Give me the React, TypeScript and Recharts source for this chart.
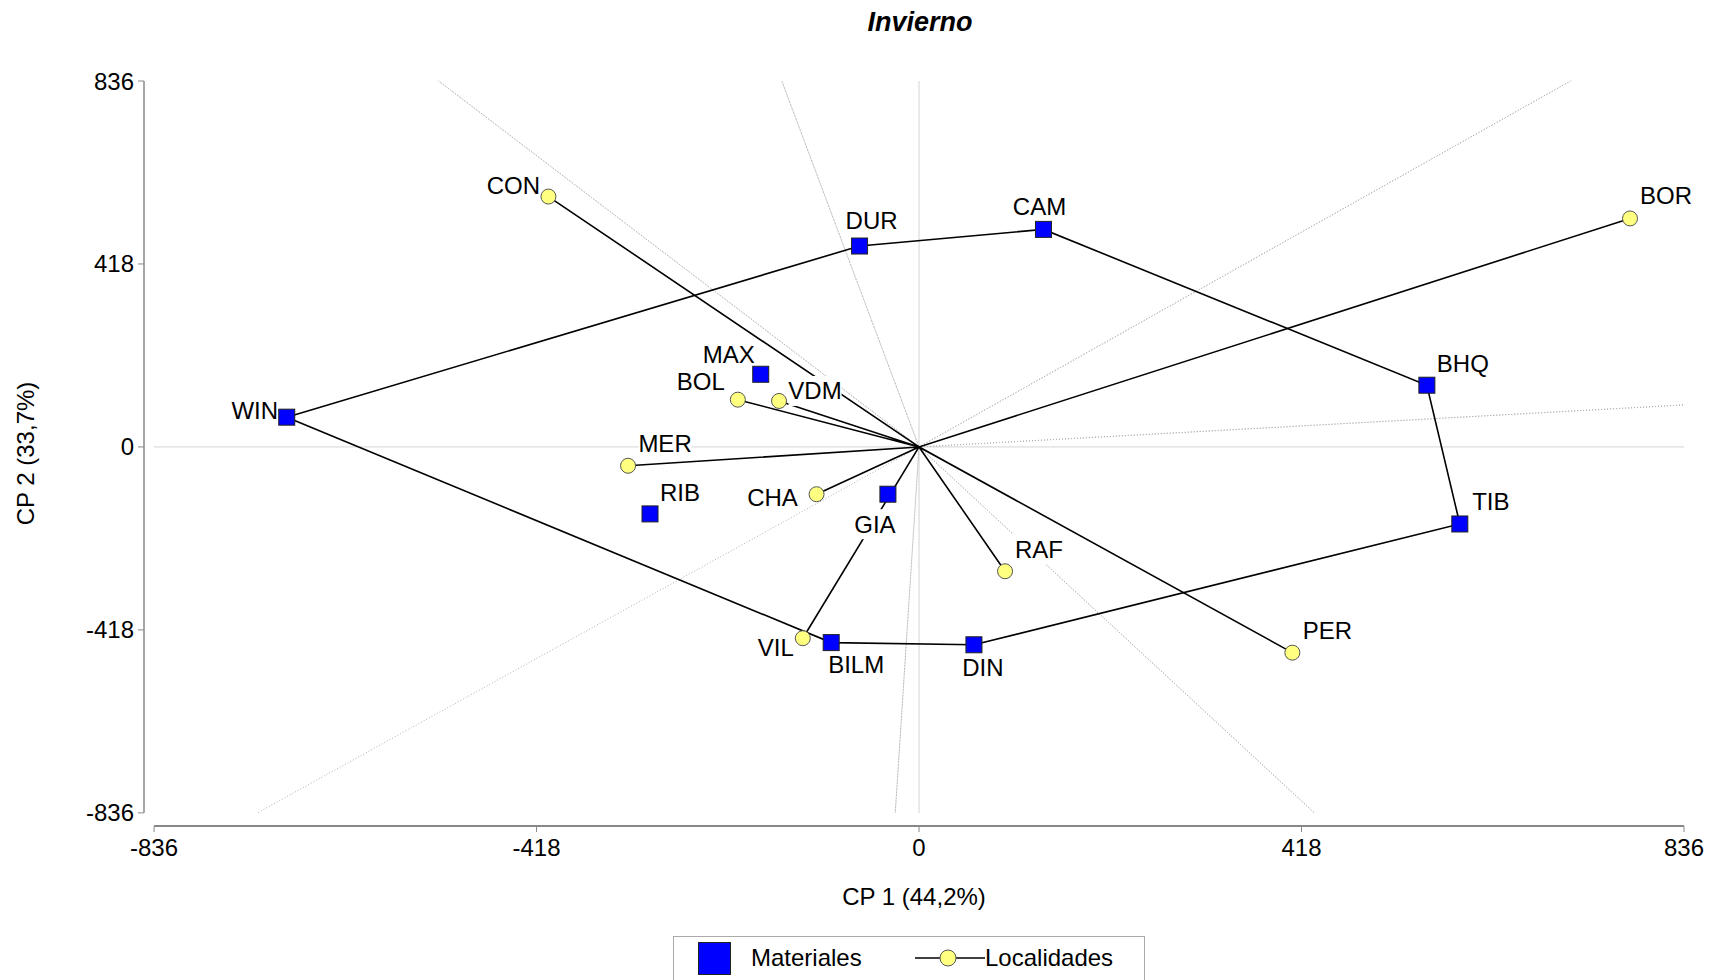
import {
  ScatterChart,
  Scatter,
  XAxis,
  YAxis,
  ReferenceLine,
} from 'recharts';

// GGE biplot - Invierno
const materialNames = ['WIN', 'DUR', 'CAM', 'BHQ', 'TIB', 'DIN', 'BILM', 'GIA', 'RIB', 'MAX'];
const materialX = [-691, -65, 136, 555, 591, 60, -96, -34, -294, -173];
const materialY = [68, 459, 497, 141, -176, -452, -447, -108, -153, 166];

const siteNames = ['CON', 'BOR', 'BOL', 'VDM', 'MER', 'CHA', 'RAF', 'PER', 'VIL'];
const siteX = [-405, 777, -198, -153, -318, -112, 94, 408, -127];
const siteY = [572, 522, 108, 105, -43, -108, -284, -470, -437];

// vertices of the polygon, in drawing order
const hullOrder = ['WIN', 'DUR', 'CAM', 'BHQ', 'TIB', 'DIN', 'BILM'];

// ends of the sector rays (perpendiculars to the polygon sides)
const rayX = [-525, -150, 712, 836, 432, -26, -723];
const rayY = [836, 836, 836, 96, -836, -836, -836];

const axisTicks = [-836, -418, 0, 418, 836];

// label text centre relative to the marker, px
const labelOffset: Record<string, [number, number]> = {
  WIN: [-32, -7],
  DUR: [12, -26],
  CAM: [-4, -23],
  BHQ: [36, -22],
  TIB: [31, -22],
  DIN: [9, 23],
  BILM: [25, 22],
  GIA: [-13, 30],
  RIB: [30, -21],
  MAX: [-32, -20],
  CON: [-35, -11],
  BOR: [36, -23],
  BOL: [-37, -18],
  VDM: [36, -10],
  MER: [37, -22],
  CHA: [-44, 3],
  RAF: [34, -22],
  PER: [35, -22],
  VIL: [-27, 9],
};

const FONT = '"Liberation Sans", Arial, sans-serif';

const materiales = materialNames.map((name, i) => ({ name, x: materialX[i], y: materialY[i] }));
const localidades = siteNames.map((name, i) => ({ name, x: siteX[i], y: siteY[i] }));

const hullPath = [...hullOrder, hullOrder[0]].map((n) => {
  const i = materialNames.indexOf(n);
  return { x: materialX[i], y: materialY[i] };
});

const siteVectors = localidades.flatMap((p) => [{ x: 0, y: 0 }, { x: p.x, y: p.y }]);
const sectorRays = rayX.flatMap((x, i) => [{ x: 0, y: 0 }, { x, y: rayY[i] }]);

function PointLabel({ cx, cy, name }: { cx: number; cy: number; name: string }) {
  const [dx, dy] = labelOffset[name] ?? [0, -20];
  const w = name.length * 15 + 8;
  return (
    <g>
      <rect x={cx + dx - w / 2} y={cy + dy - 15} width={w} height={30} fill="#fff" />
      <text
        x={cx + dx}
        y={cy + dy}
        textAnchor="middle"
        dominantBaseline="central"
        fontSize={24}
        fontFamily={FONT}
        fill="#000"
      >
        {name}
      </text>
    </g>
  );
}

const SquareShape = (props: any) => {
  const { cx, cy, payload } = props;
  return (
    <g>
      <PointLabel cx={cx} cy={cy} name={payload.name} />
      <rect x={cx - 8} y={cy - 8} width={16} height={16} fill="#0000ff" stroke="#222" strokeWidth={1} />
    </g>
  );
};

const CircleShape = (props: any) => {
  const { cx, cy, payload } = props;
  return (
    <g>
      <PointLabel cx={cx} cy={cy} name={payload.name} />
      <circle cx={cx} cy={cy} r={7.5} fill="#ffff80" stroke="#555" strokeWidth={1} />
    </g>
  );
};

const NoShape = () => <g />;

const tickStyle = { fill: '#000', fontSize: 24, fontFamily: FONT };

export default function App() {
  return (
    <div style={{ position: 'absolute', left: 0, top: 0, width: 1722, height: 980, background: '#fff', overflow: 'hidden' }}>
      <div
        style={{
          position: 'absolute',
          top: 8,
          left: 770,
          width: 300,
          textAlign: 'center',
          fontFamily: FONT,
          fontWeight: 700,
          fontStyle: 'italic',
          fontSize: 27,
          lineHeight: '28px',
        }}
      >
        Invierno
      </div>
      <ScatterChart width={1722} height={980} margin={{ top: 81, right: 38, bottom: 124, left: 84 }}>
        <XAxis
          type="number"
          dataKey="x"
          domain={[-847, 836]}
          ticks={axisTicks}
          axisLine={false}
          tickLine={{ stroke: '#888' }}
          tickSize={6}
          tickMargin={7}
          tick={tickStyle}
          height={30}
          label={{ value: 'CP 1 (44,2%)', position: 'bottom', offset: 32, style: { fill: '#000', fontSize: 24, fontFamily: FONT } }}
        />
        <YAxis
          type="number"
          dataKey="y"
          domain={[-866, 836]}
          ticks={axisTicks}
          axisLine={false}
          tickLine={{ stroke: '#888' }}
          tickSize={6}
          tickMargin={4}
          tick={tickStyle}
          width={60}
          label={{
            value: 'CP 2 (33,7%)',
            angle: -90,
            position: 'left',
            offset: 59,
            style: { fill: '#000', fontSize: 24, fontFamily: FONT, textAnchor: 'middle' },
          }}
        />
        <ReferenceLine segment={[{ x: 0, y: -836 }, { x: 0, y: 836 }]} stroke="#d4d4d4" ifOverflow="visible" />
        <ReferenceLine segment={[{ x: -836, y: 0 }, { x: 836, y: 0 }]} stroke="#d4d4d4" ifOverflow="visible" />
        <ReferenceLine segment={[{ x: -847, y: -836 }, { x: -847, y: 836 }]} stroke="#888" strokeWidth={1.5} ifOverflow="visible" />
        <ReferenceLine segment={[{ x: -836, y: -866 }, { x: 836, y: -866 }]} stroke="#888" strokeWidth={2} ifOverflow="visible" />
        <Scatter
          data={sectorRays}
          fill="#b0b0b0"
          line={{ stroke: '#b0b0b0', strokeWidth: 1, strokeDasharray: '1 2' }}
          lineType="joint"
          shape={NoShape}
          isAnimationActive={false}
        />
        <Scatter
          data={siteVectors}
          fill="#000"
          line={{ stroke: '#000', strokeWidth: 1.6 }}
          lineType="joint"
          shape={NoShape}
          isAnimationActive={false}
        />
        <Scatter
          data={hullPath}
          fill="#000"
          line={{ stroke: '#000', strokeWidth: 1.6 }}
          lineType="joint"
          shape={NoShape}
          isAnimationActive={false}
        />
        <Scatter name="Materiales" data={materiales} fill="#0000ff" shape={SquareShape} isAnimationActive={false} />
        <Scatter name="Localidades" data={localidades} fill="#ffff80" shape={CircleShape} isAnimationActive={false} />
      </ScatterChart>
      <div
        style={{
          position: 'absolute',
          left: 673,
          top: 936,
          width: 470,
          height: 60,
          border: '1px solid #aaa',
          fontFamily: FONT,
          fontSize: 24,
        }}
      >
        <div style={{ position: 'absolute', left: 24, top: 5, width: 31, height: 31, background: '#0000ff', border: '1px solid #222' }} />
        <div style={{ position: 'absolute', left: 77, top: 6, lineHeight: '30px' }}>Materiales</div>
        <svg style={{ position: 'absolute', left: 240, top: 6 }} width={72} height={30}>
          <line x1={1} y1={15} x2={71} y2={15} stroke="#000" strokeWidth={1.6} />
          <circle cx={34} cy={15} r={8} fill="#ffff80" stroke="#555" strokeWidth={1} />
        </svg>
        <div style={{ position: 'absolute', left: 311, top: 6, lineHeight: '30px' }}>Localidades</div>
      </div>
    </div>
  );
}
